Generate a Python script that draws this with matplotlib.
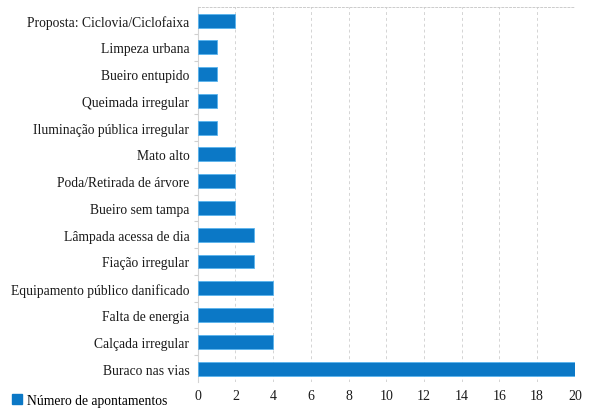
import matplotlib
matplotlib.use("Agg")
import matplotlib.pyplot as plt
from matplotlib.patches import Patch

# categories, top to bottom as in the reference
categorias = ["Proposta: Ciclovia/Ciclofaixa", "Limpeza urbana", "Bueiro entupido",
              "Queimada irregular", "Iluminação pública irregular", "Mato alto",
              "Poda/Retirada de árvore", "Bueiro sem tampa", "Lâmpada acessa de dia",
              "Fiação irregular", "Equipamento público danificado", "Falta de energia",
              "Calçada irregular", "Buraco nas vias"]
apontamentos = [2, 1, 1, 1, 1, 2, 2, 2, 3, 3, 4, 4, 4, 20]
x_ticks = list(range(0, 21, 2))

plt.rcParams['font.family'] = ['Liberation Serif', 'DejaVu Serif']

cor = '#0b78c6'
fig = plt.figure(figsize=(5.92, 4.10), dpi=100)
ax = fig.add_axes([0.334, 0.066, 0.637, 0.914])

pos = list(range(len(categorias)))
ax.barh(pos, apontamentos, height=0.52, color=cor, edgecolor='#5ab4ee', linewidth=0.6, zorder=3)
ax.set_yticks(pos)
ax.set_yticklabels(categorias, fontsize=9.8)
ax.set_ylim(len(categorias) - 0.5, -0.5)
ax.set_xlim(0, 20)
ax.set_xticks(x_ticks)
ax.tick_params(axis='x', length=0, labelsize=10, colors='#1a1a1a', pad=5)
ax.tick_params(axis='y', length=0, pad=6, colors='#1a1a1a')

# small ticks between categories on the left spine
ax.set_yticks([p + 0.5 for p in pos[:-1]], minor=True)
ax.tick_params(axis='y', which='minor', length=3, color='#d0d0d0', width=0.8)

ax.grid(axis='x', color='#d4d4d4', linestyle=(0, (3, 3)), linewidth=0.7, zorder=0)
for s in ['right', 'bottom']:
    ax.spines[s].set_visible(False)
ax.spines['left'].set_color('#d4d4d4')
ax.spines['top'].set_color('#cccccc')
ax.spines['top'].set_linestyle((0, (2, 2)))
ax.spines['top'].set_linewidth(0.7)

fig.legend(handles=[Patch(color=cor)], labels=['Número de apontamentos'],
           loc='lower left', bbox_to_anchor=(0.0, -0.025), frameon=False,
           fontsize=9.8, handlelength=0.7, handleheight=0.7, handletextpad=0.4)

fig.savefig('out.png', dpi=100)
